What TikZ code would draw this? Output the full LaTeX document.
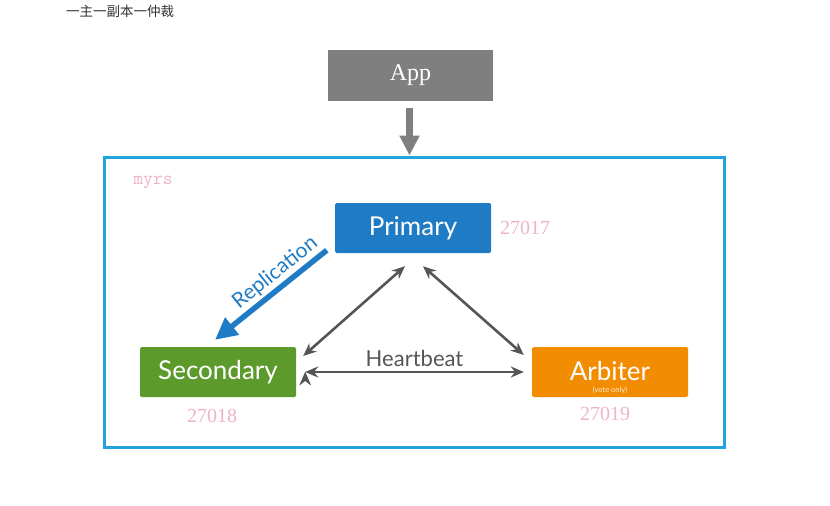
\documentclass[tikz,border=0pt]{standalone}
\usepackage{fontspec}
\setmainfont{Lato}
\newfontfamily\cjkfont{Noto Sans CJK SC}
\newfontfamily\seriffont{Liberation Serif}
\usepackage{xcolor}
\usetikzlibrary{positioning, arrows.meta}

\definecolor{appgray}{HTML}{7F7F7F}
\definecolor{frameblue}{HTML}{23A2E0}
\definecolor{primblue}{HTML}{1F7BC4}
\definecolor{secgreen}{HTML}{5B9A2B}
\definecolor{arborange}{HTML}{F28C00}
\definecolor{linkgray}{HTML}{555555}
\definecolor{portpink}{HTML}{EDB3C6}

\begin{document}
\begin{tikzpicture}[
        x=1pt, y=-1pt,
        % --- member boxes ---
        box/.style={
            rectangle, rounded corners=1.5pt,
            minimum width=156pt, minimum height=50pt,
            text=white, font=\fontsize{26}{28}\selectfont
        },
        port/.style={text=portpink, font=\seriffont\fontsize{20}{22}\selectfont},
        link/.style={
            {Stealth[length=13pt,width=11pt]}-{Stealth[length=13pt,width=11pt]},
            line width=2.6pt, draw=linkgray
        }
    ]
    \useasboundingbox (0,0) rectangle (830,506);

    % ==================== 1. TITLE AND CLIENT ====================
    \node[text=black!80, font=\cjkfont\fontsize{13.5}{15}\selectfont] (title) at (120,11) {一主一副本一仲裁};

    \node[fill=appgray, minimum width=165pt, minimum height=51pt,
          text=white, font=\seriffont\fontsize{24}{26}\selectfont] (app) at (410.5,75.5) {App};

    % Replica set frame
    \node[draw=frameblue, line width=3pt, minimum width=620pt, minimum height=290pt,
          inner sep=0pt] (rs) at (414,302) {};
    \node[text=portpink, font=\ttfamily\fontsize{19}{21}\selectfont] (rsname) at (153,182) {myrs};

    % ==================== 2. MEMBERS ====================
    \node[box, fill=primblue]  (primary)   at (413,228) {Primary};
    \node[box, fill=secgreen]  (secondary) at (218,372) {Secondary};
    \node[box, fill=arborange] (arbiter)   at (610,372) {\raisebox{3pt}{Arbiter}};
    \node[text=white!85!arborange, font=\fontsize{7.5}{8}\selectfont] (arbnote) at (610,390) {(vote only)};

    % Ports
    \node[port] (pport) at (525,228) {27017};
    \node[port] (sport) at (212,416) {27018};
    \node[port] (aport) at (605,414) {27019};

    % ==================== 3. CONNECTIONS ====================
    \draw[-{Triangle[length=20pt,width=19pt]}, line width=7pt, draw=appgray]
        ([xshift=-1pt,yshift=-7pt]app.south) -- ([xshift=-1pt]app.south |- rs.north);

    \draw[-{Triangle[length=22pt,width=21pt]}, line width=5.5pt, draw=primblue]
        ([xshift=-8pt,yshift=3pt]primary.south west) -- ([xshift=-3pt,yshift=7pt]secondary.north)
        node[pos=0.38, sloped, above=-1pt, text=primblue, font=\fontsize{21}{23}\selectfont] (replab) {Replication};

    \path[link]
        ([xshift=-8pt,yshift=-13pt]primary.south) edge ([xshift=7pt,yshift=16pt]secondary.east)
        ([xshift=10pt,yshift=-13pt]primary.south) edge ([xshift=-8pt,yshift=17pt]arbiter.west)
        ([xshift=9pt]secondary.east) edge node[above=1pt, text=linkgray, font=\fontsize{22}{24}\selectfont] {Heartbeat} ([xshift=-8pt]arbiter.west);

\end{tikzpicture}
\end{document}
